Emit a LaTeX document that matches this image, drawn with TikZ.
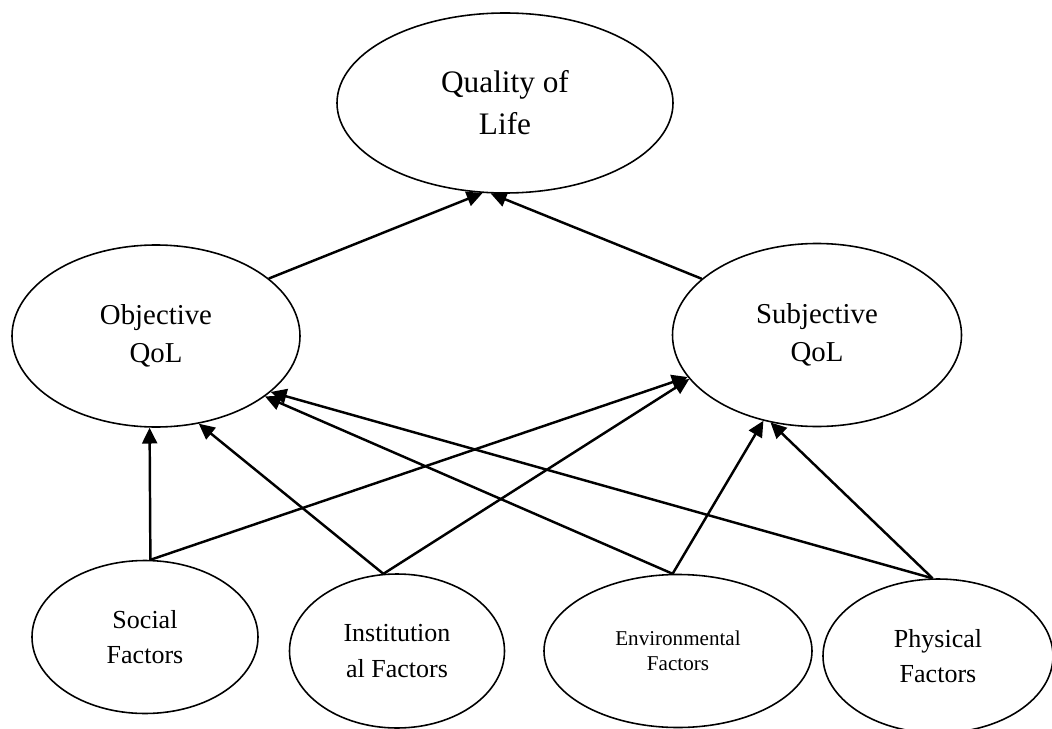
\documentclass[tikz,border=0pt]{standalone}
\usepackage{fontspec}
\setmainfont{Liberation Serif}
\usetikzlibrary{arrows.meta, shapes.geometric}

\begin{document}
\begin{tikzpicture}[
    blob/.style={ellipse, draw, line width=0.9pt, align=center, inner sep=0pt},
    big/.style={font=\fontsize{17.8}{24}\selectfont},
    mid/.style={font=\fontsize{16.4}{22}\selectfont},
    low/.style={font=\fontsize{14.8}{20}\selectfont},
    link/.style={line width=1.4pt, -{Triangle[length=9pt, width=8.5pt]}}
]
    \useasboundingbox (0, 0) rectangle (21.04, -14.58);

    \node[blob, big, minimum width=6.72cm, minimum height=3.60cm] (qol) at (10.10, -2.06) {Quality of\\Life};
    \node[blob, mid, minimum width=5.76cm, minimum height=3.64cm] (obj) at (3.12, -6.72) {Objective\\QoL};
    \node[blob, mid, minimum width=5.78cm, minimum height=3.66cm] (subj) at (16.34, -6.70) {Subjective\\QoL};
    \node[blob, low, minimum width=4.52cm, minimum height=3.06cm] (soc) at (2.90, -12.74) {Social\\Factors};
    \node[blob, low, minimum width=4.30cm, minimum height=3.08cm] (inst) at (7.94, -13.02) {Institution\\al Factors};
    \node[blob, minimum width=5.36cm, minimum height=3.06cm, font=\fontsize{12}{14.5}\selectfont] (env) at (13.56, -13.02) {Environmental\\Factors};
    \node[blob, low, minimum width=4.60cm, minimum height=3.08cm] (phys) at (18.76, -13.12) {Physical\\Factors};

    \draw
    (obj.27) edge[link] (qol.256)
    (subj.154) edge[link] (qol.261)
    (soc.86) edge[link] (obj.266.2)
    (soc.86) edge[link] (subj.198)
    (inst.100) edge[link] (obj.-64)
    (inst.100) edge[link] (subj.199.5)
    (env.94.5) edge[link] (obj.-29.7)
    (env.94.5) edge[link] (subj.238.8)
    (phys.94.5) edge[link] (obj.-26.9)
    (phys.94.5) edge[link] (subj.242.2);
\end{tikzpicture}
\end{document}
